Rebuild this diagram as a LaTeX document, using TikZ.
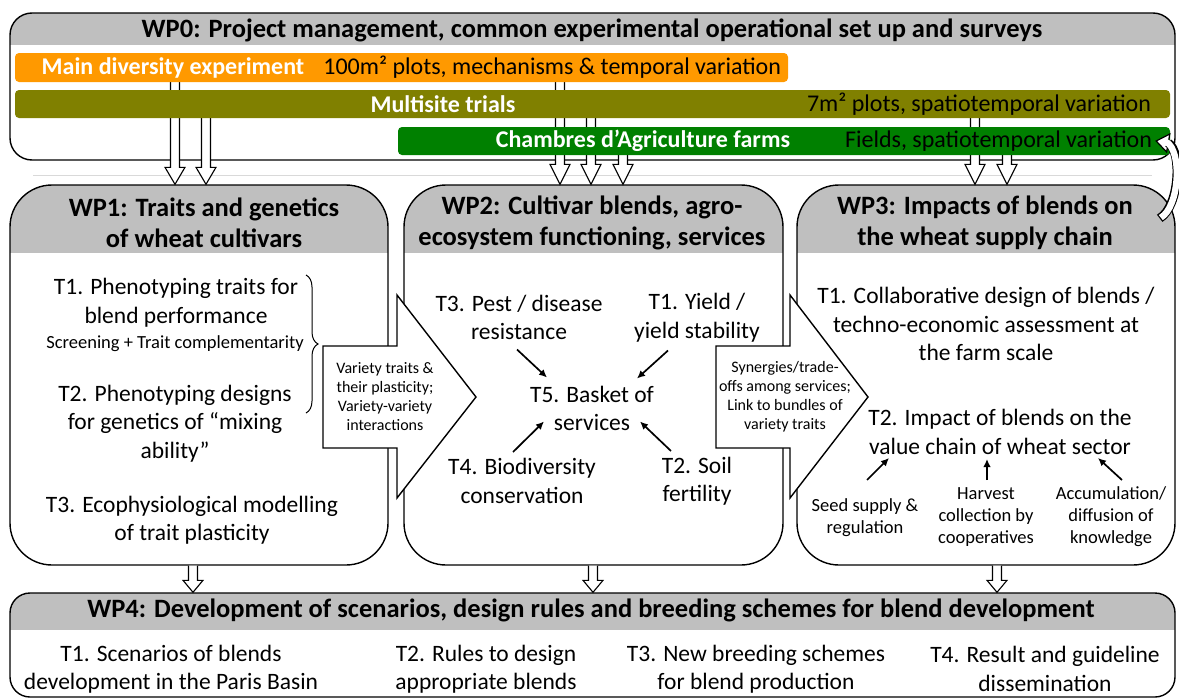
\documentclass[tikz,border=0pt]{standalone}
\usepackage{fontspec}
\setmainfont{Carlito}
\usetikzlibrary{positioning,calc,arrows.meta,decorations.pathreplacing}
\definecolor{headgray}{HTML}{BFBFBF}
\definecolor{divorange}{HTML}{FF9900}
\definecolor{trialolive}{HTML}{808000}
\definecolor{farmgreen}{HTML}{008000}
\definecolor{sepgray}{HTML}{D9D9D9}
\pgfdeclarelayer{boxes}
\pgfdeclarelayer{links}
\pgfsetlayers{boxes,links,main}
\def\shaft{4.5}
\def\head{10}
\tikzstyle{task}=[font=\fontsize{23.5}{28.5}\selectfont,align=center,inner sep=0pt]
\tikzstyle{subtask}=[font=\fontsize{18.5}{22}\selectfont,align=center,inner sep=0pt]
\tikzstyle{flowtext}=[font=\fontsize{16}{19}\selectfont,align=center,inner sep=0pt]
\tikzstyle{wptitle}=[font=\fontsize{26.5}{31}\selectfont\bfseries,align=center,inner sep=0pt]
\tikzstyle{bartext}=[font=\fontsize{24}{28}\selectfont,inner sep=0pt]
\tikzstyle{barlabel}=[font=\fontsize{24}{28}\selectfont\bfseries,text=white,inner sep=0pt]
\tikzstyle{blockarrow}=[draw,line width=1.1pt,line join=miter]
\tikzstyle{bigarrow}=[draw,fill=white,line width=1.4pt,line join=miter]
\tikzstyle{link}=[->,line width=1.7pt]
\tikzset{
  wpbox/.style={draw,line width=1.4pt,fill=white,inner sep=0pt,rounded corners=#1},
  header/.style={path picture={\fill[headgray,sharp corners] ([yshift=2pt]path picture bounding box.north west)
      rectangle ([yshift=-#1]path picture bounding box.north east);}},
  bar/.style={fill=#1,rounded corners=4pt,inner sep=0pt}
}
\newcommand{\newTask}[4]{\node[#3](#1) at (#4) {#2};}
\newcommand{\newLink}[4]{\draw[link] ([shift={(#2)}]#1.center) -- ([shift={(#4)}]#3.center);}
\newcommand{\downArrow}[4]{%
  \coordinate (ax) at (#1,0);
  \coordinate (as) at (ax |- #2.south);
  \coordinate (at) at (ax |- #3.north);
  \fill[white] ($(as)+(-\shaft,0)$) -- ($(at)+(-\shaft,-#4)$) -- ($(at)+(-\head,-#4)$) -- (at)
    -- ($(at)+(\head,-#4)$) -- ($(at)+(\shaft,-#4)$) -- ($(as)+(\shaft,0)$) -- cycle;
  \draw[blockarrow] ($(as)+(-\shaft,0)$) -- ($(at)+(-\shaft,-#4)$) -- ($(at)+(-\head,-#4)$) -- (at)
    -- ($(at)+(\head,-#4)$) -- ($(at)+(\shaft,-#4)$) -- ($(as)+(\shaft,0)$);}

\begin{document}
\begin{tikzpicture}[x=1pt,y=-1pt,>={Latex[length=8pt,width=7.5pt]}]
  \useasboundingbox (0,0) rectangle (1179,699);
  % work packages
  \begin{pgfonlayer}{boxes}
    \fill[white] (0,0) rectangle (1179,699);
    \node[wpbox=22pt,header=32pt,minimum width=1165pt,minimum height=147pt] (wp0) at (592.5,86.5) {};
    \node[wpbox=42pt,header=68pt,minimum width=378pt,minimum height=380pt] (wp1) at (199,375) {};
    \node[wpbox=42pt,header=68pt,minimum width=379pt,minimum height=380pt] (wp2) at (593.5,375) {};
    \node[wpbox=42pt,header=68pt,minimum width=378pt,minimum height=380pt] (wp3) at (986,375) {};
    \node[wpbox=20pt,header=37pt,minimum width=1165pt,minimum height=104pt] (wp4) at (592.5,645) {};
    \draw[sepgray,line width=1pt] (33,175) -- (1152,175);
  \end{pgfonlayer}

  % experimental set ups
  \node[bar=divorange,minimum width=773pt,minimum height=29pt] (div) at (401.5,67.5) {};
  \node[bar=trialolive,minimum width=1155pt,minimum height=28pt] (trials) at (592.5,104) {};
  \node[bar=farmgreen,minimum width=772pt,minimum height=28pt] (farms) at (784,141) {};
  \node[barlabel] (divlabel) at ([xshift=-228.5pt]div.center) {Main diversity experiment};
  \node[bartext,left=7pt of div.east] (divtext) {100m² plots, mechanisms \& temporal variation};
  \node[barlabel] (trialslabel) at ([xshift=-149.5pt]trials.center) {Multisite trials};
  \node[bartext,left=19pt of trials.east] (trialstext) {7m² plots, spatiotemporal variation};
  \node[barlabel] (farmslabel) at ([xshift=-141pt]farms.center) {Chambres d’Agriculture farms};
  \node[bartext,left=18pt of farms.east] (farmstext) {Fields, spatiotemporal variation};

  \begin{pgfonlayer}{links}
    \downArrow{175}{div}{wp1}{17}
    \downArrow{206}{trials}{wp1}{17}
    \downArrow{560}{div}{wp2}{20}
    \downArrow{591}{trials}{wp2}{20}
    \downArrow{623}{farms}{wp2}{20}
    \downArrow{975}{trials}{wp3}{20}
    \downArrow{1007}{farms}{wp3}{20}
    \downArrow{193}{wp1}{wp4}{12}
    \downArrow{593}{wp2}{wp4}{12}
    \downArrow{997}{wp3}{wp4}{12}
  \end{pgfonlayer}

  % feedback from WP3 to the farms
  \coordinate (fbStart) at ([shift={(-16,34)}]wp3.north east);
  \coordinate (fbTip) at ([xshift=-14pt]farms.east);
  \coordinate (fbBase) at ([shift={(12,2)}]fbTip);
  \fill[white,draw=black,line width=1.2pt] ([shift={(1.6,-9)}]fbBase) -- (fbTip) -- ([shift={(-1.6,9)}]fbBase) -- cycle;
  \draw[line width=9pt] (fbStart) .. controls +(20,-12) and +(14,8) .. (fbBase);
  \draw[white,line width=6.4pt,shorten <=1.3pt,shorten >=-2pt] (fbStart) .. controls +(20,-12) and +(14,8) .. (fbBase);

  % flows between WP1, WP2 and WP3
  \draw[bigarrow] (323,346) -- (397,346) -- (397,295) -- (476,397) -- (397,498) -- (397,448) -- (323,448) -- cycle;
  \draw[bigarrow] (716,346) -- (790,346) -- (790,295) -- (868,397) -- (790,498) -- (790,448) -- (716,448) -- cycle;
  \newTask{flow12}{Variety traits \&\\their plasticity;\\Variety-variety\\interactions}{flowtext}{385,397}
  \newTask{flow23}{Synergies/trade-\\offs among services;\\Link to bundles of\\variety traits}{flowtext}{785,397}

  % titles
  \newTask{wp0title}{WP0: Project management, common experimental operational set up and surveys}{wptitle}{592,30}
  \newTask{wp1title}{WP1: Traits and genetics\\of wheat cultivars}{wptitle}{204,222.5}
  \newTask{wp2title}{WP2: Cultivar blends, agro-\\ecosystem functioning, services}{wptitle}{592,223}
  \newTask{wp3title}{WP3: Impacts of blends on\\the wheat supply chain}{wptitle}{985,222.5}
  \newTask{wp4title}{WP4: Development of scenarios, design rules and breeding schemes for blend development}{wptitle}{591,610}

  % WP1 tasks
  \newTask{wp1t1}{T1. Phenotyping traits for\\blend performance}{task}{176,302.5}
  \newTask{wp1scr}{Screening + Trait complementarity}{subtask}{175,344}
  \newTask{wp1t2}{T2. Phenotyping designs\\for genetics of “mixing\\ability”}{task}{175,423.5}
  \newTask{wp1t3}{T3. Ecophysiological modelling\\of trait plasticity}{task}{192,520}
  \coordinate (braceTop) at (306,275);
  \coordinate (braceBot) at (306,413);
  \draw[decorate,decoration={brace,amplitude=12pt},line width=1pt] (braceTop) -- (braceBot);

  % WP2 tasks
  \newTask{wp2t3}{T3. Pest / disease\\resistance}{task}{519,317.5}
  \newTask{wp2t1}{T1. Yield /\\yield stability}{task}{697,317.5}
  \newTask{wp2t5}{T5. Basket of\\services}{task}{592,408.5}
  \newTask{wp2t4}{T4. Biodiversity\\conservation}{task}{522,481}
  \newTask{wp2t2}{T2. Soil\\fertility}{task}{697,481}
  \newLink{wp2t3}{-2,32}{wp2t5}{-45,-31}
  \newLink{wp2t1}{-29,33}{wp2t5}{45,-30}
  \newLink{wp2t4}{-9,-29}{wp2t5}{-48,13}
  \newLink{wp2t2}{-26,-30}{wp2t5}{48,13}

  % WP3 tasks
  \newTask{wp3t1}{T1. Collaborative design of blends /\\techno-economic assessment at\\the farm scale}{task}{986,324}
  \newTask{wp3t2}{T2. Impact of blends on the\\value chain of wheat sector}{task}{1000,432}
  \newTask{wp3seed}{Seed supply \&\\regulation}{subtask}{865,517.5}
  \newTask{wp3harv}{Harvest\\collection by\\cooperatives}{subtask}{986,517}
  \newTask{wp3know}{Accumulation/\\diffusion of\\knowledge}{subtask}{1111,517}
  \newLink{wp3seed}{2,-37.5}{wp3t2}{-111,26}
  \newLink{wp3harv}{1,-37}{wp3t2}{-13,27}
  \newLink{wp3know}{11,-37}{wp3t2}{98,26}

  % WP4 tasks
  \newTask{wp4t1}{T1. Scenarios of blends\\development in the Paris Basin}{task}{171,669}
  \newTask{wp4t2}{T2. Rules to design\\appropriate blends}{task}{486,669}
  \newTask{wp4t3}{T3. New breeding schemes\\for blend production}{task}{756,669}
  \newTask{wp4t4}{T4. Result and guideline\\dissemination}{task}{1045,669}
\end{tikzpicture}
\end{document}
